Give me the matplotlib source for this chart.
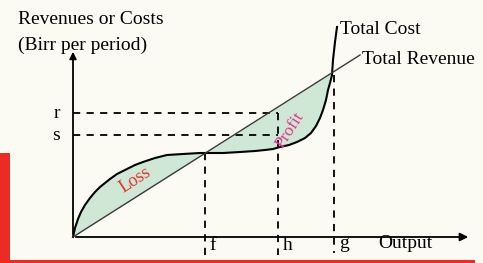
import matplotlib
matplotlib.use("Agg")
import matplotlib.pyplot as plt
from matplotlib.patches import Rectangle
import numpy as np

plt.rcParams['font.family'] = ['Liberation Serif', 'DejaVu Serif']

# total cost curve (output, birr)
cost_x = [0, 2, 5, 8, 12, 17, 22, 27, 32, 37, 44, 54, 62, 70, 82, 94, 110, 127, 150, 167, 182, 192, 200, 207, 216, 224, 232, 238, 243, 247, 250, 253, 255, 257, 259, 260, 262, 264]
cost_y = [0, 9, 18, 25, 32, 39, 45, 50, 54, 58, 63, 68, 72, 75, 79, 82, 83, 84, 84, 85, 86, 87, 88, 90, 92, 95, 99, 104, 111, 119, 127, 137, 147, 154, 162, 177, 195, 210]
# total revenue line
rev_x = [0, 287]
rev_y = [0, 182]
f_x, h_x, g_x = 132, 205, 261
r_y, s_y = 124, 102

fig = plt.figure(figsize=(4.83, 2.63), dpi=100)
fig.patch.set_facecolor('#fbfbf4')
ax = fig.add_axes([0, 0, 1, 1])
ax.set_xlim(-73, 410)
ax.set_ylim(-26, 237)
ax.axis('off')

cx = np.array(cost_x, dtype=float)
cy = np.array(cost_y, dtype=float)
ry = np.interp(cx, rev_x, rev_y)
m = cx <= g_x - 2
ax.fill_between(cx[m], cy[m], ry[m], color='#cfe8d6', lw=0, zorder=1)

ax.plot(cost_x, cost_y, color='black', lw=1.5, zorder=3)
ax.plot(rev_x, rev_y, color='#3a3a3a', lw=1.0, zorder=3)

# axes with arrows
ax.annotate('', xy=(0, 188), xytext=(0, 0),
            arrowprops=dict(arrowstyle='-|>', color='black', lw=1.3, mutation_scale=10))
ax.annotate('', xy=(398, 0), xytext=(0, 0),
            arrowprops=dict(arrowstyle='-|>', color='black', lw=1.3, mutation_scale=12))

dash = dict(color='black', lw=1.3, ls=(0, (4, 3.5)), zorder=2)
ax.plot([0, h_x], [r_y, r_y], **dash)
ax.plot([0, h_x], [s_y, s_y], **dash)
ax.plot([f_x, f_x], [84, -18], **dash)
ax.plot([h_x, h_x], [r_y, -18], **dash)
ax.plot([g_x, g_x], [162, -16], **dash)

fs = 14
ax.text(-55, 218, 'Revenues or Costs', fontsize=fs, va='center', ha='left')
ax.text(-55, 192, '(Birr per period)', fontsize=fs, va='center', ha='left')
ax.text(-13, r_y, 'r', fontsize=fs, va='center', ha='right')
ax.text(-13, s_y, 's', fontsize=fs, va='center', ha='right')
ax.text(f_x + 4, -9, 'f', fontsize=fs, va='center', ha='left')
ax.text(h_x + 5, -9, 'h', fontsize=fs, va='center', ha='left')
ax.text(g_x + 5, -7, 'g', fontsize=fs, va='center', ha='left')
ax.text(305, -7, 'Output', fontsize=fs, va='center', ha='left')
ax.text(267, 207, 'Total Cost', fontsize=fs, va='center', ha='left')
ax.text(289, 178, 'Total Revenue', fontsize=fs, va='center', ha='left')
ax.text(62, 57, 'Loss', fontsize=13, color='#e8322c', rotation=33, ha='center', va='center')
ax.text(217, 107, 'Profit', fontsize=12.5, color='#e0358e', rotation=57, ha='center', va='center')

# red page decoration
ax.add_patch(Rectangle((-73, -26), 10, 110, color='#ee2a24', lw=0, zorder=5, clip_on=False))
ax.add_patch(Rectangle((-73, -26), 475, 3, color='#ee2a24', lw=0, zorder=5, clip_on=False))

fig.savefig('out.png', dpi=100, facecolor=fig.get_facecolor())
